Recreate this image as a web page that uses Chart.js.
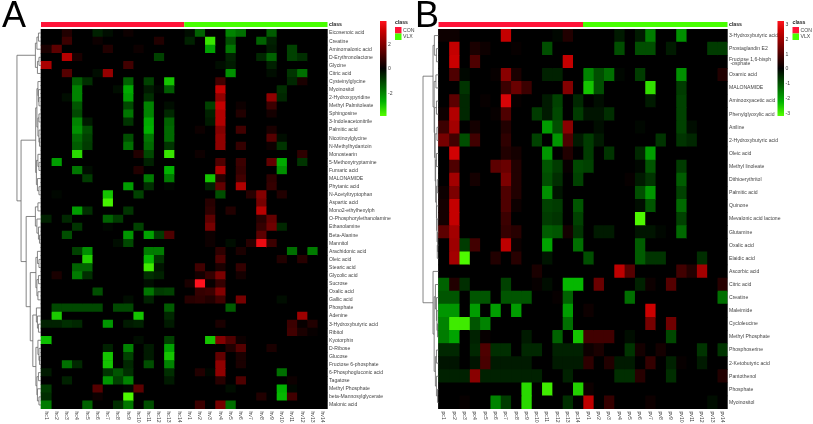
<!doctype html>
<html>
  <head>
    <script src="https://cdn.jsdelivr.net/npm/chart.js"></script>
    <style>
      body { margin: 0; background: #fff; }
      canvas { position: absolute; top: 0; }
    </style>
    <script>
      const classNames = ['CON', 'VLX'];

      const rowsA = ['Eicosenoic acid','Creatine','Aminomalonic acid','D-Erythronolactone','Glycine','Citric acid','Cysteinylglycine','Myoinositol','2-Hydroxypyridine','Methyl Palmitoleate','Sphingosine','3-Indoleacetonitrile','Palmitic acid','Nicotinoylglycine','N-Methylhydantoin','Monostearin','5-Methoxytryptamine','Fumaric acid','MALONAMIDE','Phytanic acid','N-Acetyltryptophan','Aspartic acid','Mono2-ethylhexylph','O-Phosphorylethanolamine','Ethanolamine','Beta-Alanine','Mannitol','Arachidonic acid','Oleic acid','Stearic acid','Glycolic acid','Sucrose','Oxalic acid','Gallic acid','Phosphate','Adenine','3-Hydroxybutyric acid','Ribitol','Kyotorphin','D-Ribose','Glucose','Fructose 6-phosphate','6-Phosphogluconic acid','Tagatose','Methyl Phosphate','beta-Mannosylglycerate','Malonic acid'];
      const colsA = ['hc1','hc2','hc3','hc4','hc5','hc6','hc7','hc8','hc9','hc10','hc11','hc12','hc13','hc14','hv1','hv2','hv3','hv4','hv5','hv6','hv7','hv8','hv9','hv10','hv11','hv12','hv13','hv14'];

      // one entry per row, column index -> z score, columns left out are 0
      const valuesA = [
        {2:.5,5:-.5,6:-.2,8:.2,14:-.2,15:-1.5,18:-2,19:-1.7,22:-1.4},
        {2:.9,5:.2,11:.5,14:-.5,16:-3.5,18:-1.2,21:-1.5,22:-.5},
        {0:.4,1:1.4,6:.5,9:.2,16:-2.5,18:-1.8,22:-.4,24:-1},
        {2:2.8,3:.4,11:-1,18:-.5,21:-.6,22:-1.5,24:-1,25:-.7},
        {0:2.6,8:1,17:-.2,18:-.4,22:-.5},
        {2:1.3,5:-.2,6:2.3,18:-2.2,22:-.2,24:-.8,25:-1.7},
        {3:-1.4,4:-.7,8:-1.5,10:-1,12:-3,17:1,24:-.6,25:.4},
        {3:-2,7:-.2,8:-2.6,10:-.4,11:-.1,12:-1.4,17:3,23:-.7},
        {2:-.2,3:-2,8:-2.4,10:-.7,17:2.2,22:2.2,23:-.6},
        {3:-1.3,8:-1.1,10:-2,12:-.2,16:-1,17:3,19:.2,22:.9},
        {3:-1.1,8:-1.8,10:-2,12:-.6,16:-.5,17:2.7,19:.5,22:.3},
        {3:-2,4:-.4,8:-.8,10:-2.6,12:-1.5,16:-.4,17:2.7},
        {3:-2.2,4:-1.2,10:-2.7,12:-1.6,15:.2,17:2,19:1,22:.4},
        {3:-1.6,4:-1,8:-1.2,10:-1.8,12:-1.6,17:2.2,22:1.3,23:-.2},
        {3:-1.4,4:-.9,8:-1.7,10:-1.6,12:-.8,17:2.2,19:.8,22:.2,23:-.8},
        {3:-3.3,9:.5,10:-1.1,12:-3.5,15:.2,25:.7},
        {1:-2.4,10:-.5,17:1.2,19:.9,22:1.5,23:-2.6,25:-.8},
        {3:-1.8,4:-.2,9:.5,12:-2.7,17:2.6,19:.8,23:-2.2},
        {4:-.9,10:-1.9,12:-1.9,16:-3,17:.6,19:1,22:.7},
        {8:-2.4,10:-.7,12:-.1,16:-.5,17:1.5,19:2.7,22:.8},
        {1:-.1,6:-3,9:-1,17:-1.2,20:.6,21:2,23:.5},
        {6:-3.7,16:.6,21:1.8},
        {3:-2.4,4:-.7,8:-.8,16:.7,18:.5,21:2.8},
        {0:-.5,2:-.6,6:-1.5,7:-.9,16:1.4,21:.6,22:1.5},
        {3:-.8,6:-.1,9:-1,16:1.8,21:.8,22:1.7,23:-.6},
        {2:-1.2,8:-2.3,10:-2.5,11:-.9,12:1.2,16:.2,21:1.4},
        {7:-.2,8:-1.1,16:.2,18:-.2,20:.6,21:3.6,22:.9},
        {3:-1,4:-2.2,10:-1.9,11:-1.9,17:.7,19:.4,24:-1.7,26:-1.9},
        {4:-3.2,10:-2.8,11:-.8,17:1.2,23:.5,25:.6},
        {3:-1.5,4:-1.5,10:-3.6,11:-.3,15:1,17:.4,19:.8},
        {1:.4,3:-1.9,4:-.7,10:-.7,11:-.5,15:.3,16:.8,17:1.9,19:.3},
        {10:-.2,14:.4,15:3.9,16:.1,17:.8},
        {5:-1.2,10:-1.8,11:-.9,12:-1,15:.8,16:.9,17:2},
        {8:-.2,10:-.5,14:.6,15:.7,16:.5,17:1,19:1.8,23:-.2},
        {1:-1.1,2:-1.1,3:-1.1,4:-1.1,5:-1.1,7:-1.1,8:-1.1,12:-1.4,18:-1.4},
        {1:-3.1,9:-3,12:-.6,25:2.4},
        {0:-.5,1:-.5,2:-.7,3:-.6,6:-2.3,8:-.4,9:-.5,12:-.4,17:.4,24:.9,25:.1,26:.5},
        {24:1,25:.4,26:.1},
        {0:-2.9,9:-.2,12:-1,16:-3,17:2,18:1.2,19:.2},
        {6:-.5,8:-2,10:-.4,12:-2.5,18:.5,19:1.3,22:.4},
        {6:-3,8:-1,10:-.4,12:-3,17:1.5,19:.4},
        {2:-1.7,3:-.6,6:-3,8:-.6,10:-1.2,12:-2,17:2.2,19:.4},
        {0:-.4,6:-.8,7:-1.3,8:-.7,12:-.7,15:.5,16:-.1,17:2.2,23:-1.7},
        {2:-.5,6:-2.3,7:-1,8:-2,12:-.4,17:.6,19:1.2,24:.2},
        {0:-.9,5:1.3,8:-.1,9:1.4,18:-.2,23:-2.7,24:-.1},
        {0:-.7,5:.2,8:-3.8,21:.5,23:-2.8,24:1},
        {0:-1.9,4:-1.5,7:-.7,8:-1.8,10:-1.2,15:.9,17:1.8,18:-1.7}
      ];

      // dendrogram as [height, child, child], a plain number is a row index
      const treeA = [2.35,
        [.55,[.4,[.25,0,1],2],[.35,[.2,3,4],5]],
        [1.95,
          [.52,[.4,[.3,6,[.25,7,[.2,8,9]]],[.3,[.2,10,11],[.2,12,[.15,13,14]]]],[.45,[.3,15,[.2,16,17]],[.35,18,[.2,19,20]]]],
          [1.45,
            [.55,[.3,21,22],[.4,23,[.25,24,[.15,25,26]]]],
            [1.05,
              [.5,[.35,27,[.2,28,29]],[.4,[.25,30,31],[.3,32,33]]],
              [.8,[.45,34,[.35,35,[.25,36,37]]],[.5,[.3,38,[.2,39,[.15,40,41]]],[.4,[.25,42,43],[.35,44,[.2,45,46]]]]]
            ]
          ]
        ]
      ];
      const colorbarTicksA = [2, 0, -2];

      const rowsB = ['3-Hydroxybutyric acid','Prostaglandin E2',['Fructose 1,6-bisph',' -osphate'],'Oxamic acid','MALONAMIDE','Aminooxyacetic acid','Phenylglyoxylic acid','Aniline','2-Hydroxybutyric acid','Oleic acid','Methyl linoleate','Dithioerythritol','Palmitic acid','Quinone','Mevalonic acid lactone','Glutamine','Oxalic acid','Elaidic acid','Ascorbic acid','Citric acid','Creatine','Maleimide','Cycloleucine','Methyl Phosphate','Phosphoserine','2-Ketobutyric acid','Pantothenol','Phosphate','Myoinositol'];
      const colsB = ['pc1','pc2','pc3','pc4','pc5','pc6','pc7','pc8','pc9','pc10','pc11','pc12','pc13','pc14','pv1','pv2','pv3','pv4','pv5','pv6','pv7','pv8','pv9','pv10','pv11','pv12','pv13','pv14'];

      const valuesB = [
        {0:.2,1:.2,6:3,11:-.1,12:.5,17:-.4,19:-.4,20:-1.9,23:-2.2},
        {1:3,3:.4,4:.2,7:.1,10:-1.2,17:-1.2,19:-1.2,20:-1.2,22:-.4,26:-.9,27:-.9},
        {1:3.1,3:1.2,12:3},
        {1:1.2,2:-.1,5:.1,6:2.1,7:.4,10:-.5,11:-.5,14:-2,15:-1.2,16:-1.7,17:-.1,19:-.9,23:-2.2,27:.5},
        {2:-.8,6:.9,7:1.6,8:.9,12:2,14:-3,15:-1.2,20:-3.4,23:-.9},
        {1:1.4,2:-.6,4:.1,6:3.3,7:.1,10:-.4,11:-1,13:-.6,15:-.2,20:-.4,23:-1},
        {0:.2,1:2.7,2:-.6,5:.1,6:1.2,9:-.9,10:-.4,11:-1.1,13:-.9,14:-.3,15:-.3,16:-.7,23:-1},
        {0:.9,1:2.5,3:.3,6:.5,10:-2.4,11:-1.2,12:2.1,15:-.2,19:-.1,23:-1,24:-.2},
        {0:1.8,1:1,2:-1.2,3:1,6:.7,9:-1,11:-2.3,12:1.2,13:-.4,14:-.9,15:-.4,21:-.8,23:-.8,24:-.6},
        {1:3.2,6:.5,7:.3,10:-2.3,12:.5,14:-.9,16:-.8,19:-.6,20:-2.4},
        {1:1.2,5:1.4,6:1.6,7:.5,10:-1.3,11:-.9,12:.1,13:-1.1,14:-1,19:-.1,20:-1.3,23:-.9},
        {1:2.5,3:.3,6:1.9,7:.5,10:-1.2,11:-.7,13:-1,18:.1,19:-.4,20:-.8,23:-1.4},
        {0:.2,1:1.9,6:1.2,7:.5,10:-2.2,11:-.3,19:-1.2,20:-2.3,23:-1},
        {0:.3,1:3,6:1.2,7:.2,10:-1,11:-.9,13:-1.3,19:-.2,20:-1.3,23:-1.6},
        {0:.3,1:3,6:.9,10:-.9,11:-.8,13:-1,19:-3.8,23:-1},
        {0:1.4,1:2.5,6:.8,7:.6,10:-1.4,11:-1.3,12:.3,13:-.8,15:-.4,16:-.4,19:-.3,20:-.3,21:-.1,23:-1.6},
        {1:2.4,2:-.9,3:1,6:2.9,7:.2,10:-2.5,13:-1.7,19:-1.4},
        {1:2.5,2:-3.8,5:.5,7:.6,10:-.3,14:-1.2,19:-1.4,20:-.8,21:-.8,25:-.7},
        {9:.4,17:2.9,18:1.3,23:1,24:.5,25:2.5},
        {0:-1.5,1:.5,2:-.7,6:-1,9:.1,10:-.2,12:-2.8,13:-2.8,15:1.6,19:-.5,20:.2,22:1.3,27:.6},
        {0:-1.3,1:-1.3,3:-1.3,4:-1.3,6:-1.3,7:-1.3,8:-1.3,11:.1,12:-1.5,18:-1.7,27:-1.7},
        {0:-2.3,1:-2.3,3:-2.4,5:-2.4,7:-2.4,12:-2.4,14:.2,20:3.1},
        {0:-2,1:-3.6,2:-3.6,3:-1.3,4:-2,12:-1.7,20:1.8,22:1.7},
        {0:-1.9,1:-2.5,3:-.5,4:.1,8:-.4,11:-1.5,13:-3,14:1,15:1,16:1,18:-.2,22:-1.1},
        {0:-.6,1:-.6,3:-.6,4:1.2,5:-.7,6:-.7,8:-.6,9:-.6,11:-.5,12:-.5,13:-.5,14:.2,15:.4,18:-.8,19:.3,21:.3,25:-.8,27:-.8},
        {0:-.3,1:-.3,3:-.3,4:1.1,5:-.4,6:-.4,7:-.4,8:-.4,11:-.4,12:-.4,13:-.4,14:.7,16:.5,17:-.4,18:-.4,20:.8,22:-.5,23:.1,25:-.4},
        {0:-.5,1:-.5,2:-.5,3:2.1,4:-.5,5:-.5,6:-.5,7:-.5,8:-.5,9:-.5,12:-.5,17:-.7,18:-.7,19:.6,22:-.7,27:.5},
        {8:-3.3,10:-3.6,13:-3.2,14:.2},
        {2:.1,5:-2,6:-.9,8:-3.3,12:-.7,14:2.9,16:.8,20:.2,26:-.2}
      ];

      const treeB = [1.5,
        [.53,[.4,0,[.2,1,2]],[.42,[.25,3,4],[.38,[.2,5,6],[.32,[.15,7,8],[.28,[.2,9,10],[.2,[.12,11,12],[.18,13,[.14,14,[.1,15,[.12,16,17]]]]]]]]]],
        [.53,18,[.42,[.3,19,[.2,20,[.15,21,[.1,22,23]]]],[.3,[.2,24,25],[.2,26,[.1,27,28]]]]]
      ];
      const colorbarTicksB = [3, 2, 1, 0, -1, -2, -3];

      const fullScale = 3.9;
      const fontName = '"Liberation Sans", Arial, sans-serif';

      function cellColor(v) {
        var t = Math.min(1, Math.abs(v) / fullScale);
        if (v >= 0) {
          var extra = t > 0.8 ? (t - 0.8) / 0.2 * 30 : 0;
          return 'rgb(' + Math.round(255 * t) + ',' + Math.round(extra * 0.6) + ',' + Math.round(extra) + ')';
        }
        var r = t > 0.7 ? (t - 0.7) / 0.3 * 85 : 0;
        return 'rgb(' + Math.round(r) + ',' + Math.round(255 * t) + ',0)';
      }

      // walks the tree, draws the brackets, returns where the node sits
      function drawTree(ctx, node, xs, ys) {
        if (typeof node === 'number')
          return { x: xs.getPixelForValue(0), y: ys.getPixelForValue(node) };
        var a = drawTree(ctx, node[1], xs, ys);
        var b = drawTree(ctx, node[2], xs, ys);
        var x = xs.getPixelForValue(-node[0]);
        ctx.beginPath();
        ctx.moveTo(a.x, a.y);
        ctx.lineTo(x, a.y);
        ctx.lineTo(x, b.y);
        ctx.lineTo(b.x, b.y);
        ctx.stroke();
        return { x: x, y: (a.y + b.y) / 2 };
      }

      const panelExtras = {
        id: 'panelExtras',
        // black behind the cells, otherwise the seams between bars show white
        beforeDatasetsDraw(chart) {
          var xs = chart.scales.x;
          var area = chart.chartArea;
          var left = xs.getPixelForValue(0);
          chart.ctx.save();
          chart.ctx.fillStyle = '#000';
          chart.ctx.fillRect(left, area.top, xs.getPixelForValue(28) - left, area.bottom - area.top);
          chart.ctx.restore();
        },
        afterDraw(chart, args, o) {
          var ctx = chart.ctx;
          var xs = chart.scales.x;
          var ys = chart.scales.y;
          var mid = xs.getPixelForValue(14);
          var left = xs.getPixelForValue(0);
          var right = xs.getPixelForValue(28);
          ctx.save();

          ctx.fillStyle = '#000';
          ctx.font = '36px ' + fontName;
          ctx.textAlign = 'left';
          ctx.textBaseline = 'alphabetic';
          ctx.fillText(o.letter, o.letterX, 27);

          // class strip
          ctx.fillStyle = '#ff1438';
          ctx.fillRect(left, 22, mid - left, 5);
          ctx.fillStyle = '#48ff00';
          ctx.fillRect(mid, 22, right - mid, 5);
          ctx.fillStyle = '#222';
          ctx.font = 'bold 5.2px ' + fontName;
          ctx.textBaseline = 'middle';
          ctx.fillText('class', right + 1.5, 24.7);

          // column labels read downwards
          ctx.fillStyle = '#444';
          ctx.font = '5.1px ' + fontName;
          o.cols.forEach(function (c, i) {
            ctx.save();
            ctx.translate(xs.getPixelForValue(i + 0.5), 411.5);
            ctx.rotate(Math.PI / 2);
            ctx.fillText(c, 0, 0);
            ctx.restore();
          });

          ctx.strokeStyle = '#666';
          ctx.lineWidth = 0.8;
          drawTree(ctx, o.tree, xs, ys);

          // colour bar
          var grad = ctx.createLinearGradient(0, 21, 0, 116);
          for (var i = 0; i <= 20; i++)
            grad.addColorStop(i / 20, cellColor(fullScale * (1 - i / 10)));
          ctx.fillStyle = grad;
          ctx.fillRect(o.barX, 21, 6.5, 95);
          ctx.fillStyle = '#444';
          o.barTicks.forEach(function (t) {
            ctx.fillText(String(t), o.barX + 8, 69 - t * o.barStep);
          });

          // class legend
          var lx = o.barX + 15;
          ctx.fillStyle = '#222';
          ctx.font = 'bold 5.2px ' + fontName;
          ctx.fillText('class', lx, 23);
          ctx.fillStyle = '#ff1438';
          ctx.fillRect(lx, 27, 6.5, 6.5);
          ctx.fillStyle = '#48ff00';
          ctx.fillRect(lx, 33.5, 6.5, 6.5);
          ctx.fillStyle = '#444';
          ctx.font = '5.2px ' + fontName;
          ctx.fillText(classNames[0], lx + 8, 30.3);
          ctx.fillText(classNames[1], lx + 8, 37);
          ctx.restore();
        }
      };

      function makePanel(canvasId, rows, cols, values, extras, cellLeft, cellWidth, axisWidth) {
        var datasets = cols.map(function (c, i) {
          return {
            label: c,
            data: rows.map(function () { return [i, i + 1]; }),
            backgroundColor: values.map(function (row) { return cellColor(row[i] || 0); }),
            borderWidth: 0,
            barPercentage: 1,
            categoryPercentage: 1,
            grouped: false
          };
        });
        return new Chart(document.getElementById(canvasId), {
          type: 'bar',
          data: { labels: rows, datasets: datasets },
          options: {
            indexAxis: 'y',
            responsive: false,
            animation: false,
            layout: { padding: { left: 3, top: 29, bottom: 15, right: 0 } },
            plugins: {
              legend: { display: false },
              title: { display: false },
              tooltip: { enabled: false },
              panelExtras: extras
            },
            scales: {
              x: {
                type: 'linear',
                min: -(cellLeft - 3) / cellWidth,
                max: 28,
                display: false
              },
              y: {
                position: 'right',
                afterFit: function (scale) { scale.width = axisWidth; },
                grid: { display: false, drawTicks: false },
                border: { display: false },
                ticks: {
                  autoSkip: false,
                  padding: 1.5,
                  color: '#444',
                  font: { family: fontName, size: 5.1, lineHeight: 0.85 }
                }
              }
            }
          },
          plugins: [panelExtras]
        });
      }

      window.onload = function () {
        makePanel('panelA', rowsA, colsA, valuesA, {
          letter: 'A', letterX: 2, cols: colsA, tree: treeA,
          barX: 380, barTicks: colorbarTicksA, barStep: 12.2
        }, 41, 10.23, 87.5);
        makePanel('panelB', rowsB, colsB, valuesB, {
          letter: 'B', letterX: 0, cols: colsB, tree: treeB,
          barX: 362.5, barTicks: colorbarTicksB, barStep: 14.7
        }, 23.5, 10.32, 85.5);
      };
    </script>
    <title>Heatmaps</title>
  </head>
  <body>
    <canvas id="panelA" width="415" height="424" style="left: 0"></canvas>
    <canvas id="panelB" width="398" height="424" style="left: 415px"></canvas>
  </body>
</html>
